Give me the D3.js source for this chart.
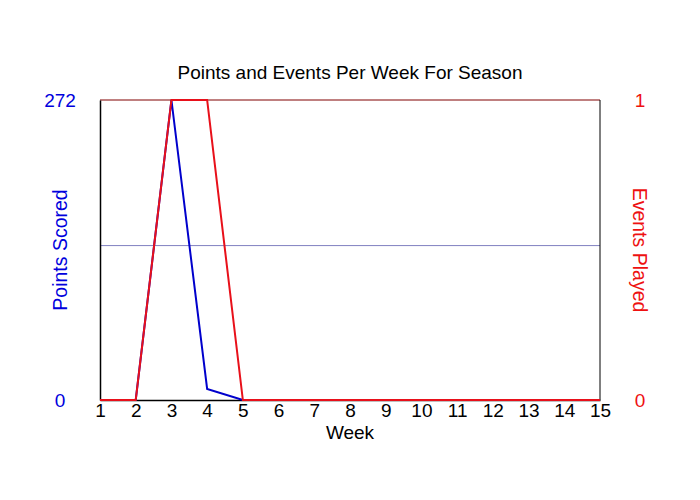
<!DOCTYPE html>
<html>
<head>
<meta charset="utf-8">
<script src="https://cdn.jsdelivr.net/npm/d3@7"></script>
<style>
  body { margin: 0; background: #fff; }
  text { font-family: "Liberation Sans", Arial, sans-serif; }
</style>
</head>
<body>
<div id="chart"></div>
<script>
// data
let weeks = [1, 2, 3, 4, 5, 6, 7, 8, 9, 10, 11, 12, 13, 14, 15];
let points = [0, 0, 272, 10, 0, 0, 0, 0, 0, 0, 0, 0, 0, 0, 0];
let events = [0, 0, 1, 1, 0, 0, 0, 0, 0, 0, 0, 0, 0, 0, 0];
let leftTicks = [0, 272];
let rightTicks = [0, 1];
let gridValues = [140];

var margin = {top: 100, right: 100, bottom: 100, left: 100},
    width = 700 - margin.left - margin.right,
    height = 500 - margin.top - margin.bottom;

var svg = d3.select("#chart")
  .append("svg")
    .attr("width", 700)
    .attr("height", 500)
  .append("g")
    .attr("transform", "translate(" + margin.left + "," + margin.top + ")");

var x = d3.scaleLinear().domain([1, 15]).range([0, width]);
var yL = d3.scaleLinear().domain([0, 272]).range([height, 0]);
var yR = d3.scaleLinear().domain([0, 1]).range([height, 0]);

// grid line
svg.selectAll(".grid")
  .data(gridValues)
  .enter().append("line")
  .attr("x1", 0).attr("x2", width)
  .attr("y1", d => yL(d)).attr("y2", d => yL(d))
  .attr("stroke", "#8080c0")
  .attr("stroke-width", 1);

// frame
svg.append("line").attr("x1", 0).attr("x2", width).attr("y1", 0).attr("y2", 0)
  .attr("stroke", "#800000").attr("stroke-width", 1);
svg.append("line").attr("x1", width).attr("x2", width).attr("y1", 0).attr("y2", height)
  .attr("stroke", "#000").attr("stroke-width", 1);

// x axis
var xAxis = svg.append("g")
  .attr("transform", "translate(0," + height + ")")
  .call(d3.axisBottom(x).tickValues(weeks).tickSize(0).tickPadding(4).tickFormat(d3.format("d")));
xAxis.select(".domain").attr("stroke", "#000").attr("stroke-width", 1.5);
xAxis.selectAll("text").attr("font-size", 19).attr("fill", "#000")
  .attr("font-family", "Liberation Sans, Arial, sans-serif");

// left axis
var lAxis = svg.append("g")
  .call(d3.axisLeft(yL).tickValues(leftTicks).tickSize(0).tickPadding(0).tickFormat(d3.format("d")));
lAxis.select(".domain").attr("stroke", "#000").attr("stroke-width", 1.5);
lAxis.selectAll("text").attr("font-size", 19).attr("fill", "#0000dd")
  .attr("text-anchor", "middle").attr("x", -40)
  .attr("font-family", "Liberation Sans, Arial, sans-serif");

// right axis
var rAxis = svg.append("g")
  .attr("transform", "translate(" + width + ",0)")
  .call(d3.axisRight(yR).tickValues(rightTicks).tickSize(0).tickPadding(0).tickFormat(d3.format("d")));
rAxis.select(".domain").remove();
rAxis.selectAll("text").attr("font-size", 19).attr("fill", "#ee1111")
  .attr("text-anchor", "middle").attr("x", 40)
  .attr("font-family", "Liberation Sans, Arial, sans-serif");

// lines
var pts = weeks.map((w, i) => ({week: w, points: points[i], events: events[i]}));

svg.append("path")
  .datum(pts)
  .attr("fill", "none")
  .attr("stroke", "#0000cc")
  .attr("stroke-width", 2)
  .attr("d", d3.line().x(d => x(d.week)).y(d => yL(d.points)));

svg.append("path")
  .datum(pts)
  .attr("fill", "none")
  .attr("stroke", "#e8101a")
  .attr("stroke-width", 2)
  .attr("d", d3.line().x(d => x(d.week)).y(d => yR(d.events)));

// titles
svg.append("text")
  .attr("x", width / 2).attr("y", -21)
  .attr("text-anchor", "middle")
  .attr("font-size", 19)
  .text("Points and Events Per Week For Season");

svg.append("text")
  .attr("x", width / 2).attr("y", height + 38.5)
  .attr("text-anchor", "middle")
  .attr("font-size", 19)
  .text("Week");

svg.append("text")
  .attr("transform", "translate(-33," + (height / 2) + ") rotate(-90)")
  .attr("text-anchor", "middle")
  .attr("font-size", 19.5)
  .attr("fill", "#0000dd")
  .text("Points Scored");

svg.append("text")
  .attr("transform", "translate(" + (width + 33) + "," + (height / 2) + ") rotate(90)")
  .attr("text-anchor", "middle")
  .attr("font-size", 19.5)
  .attr("fill", "#ee1111")
  .text("Events Played");
</script>
</body>
</html>
